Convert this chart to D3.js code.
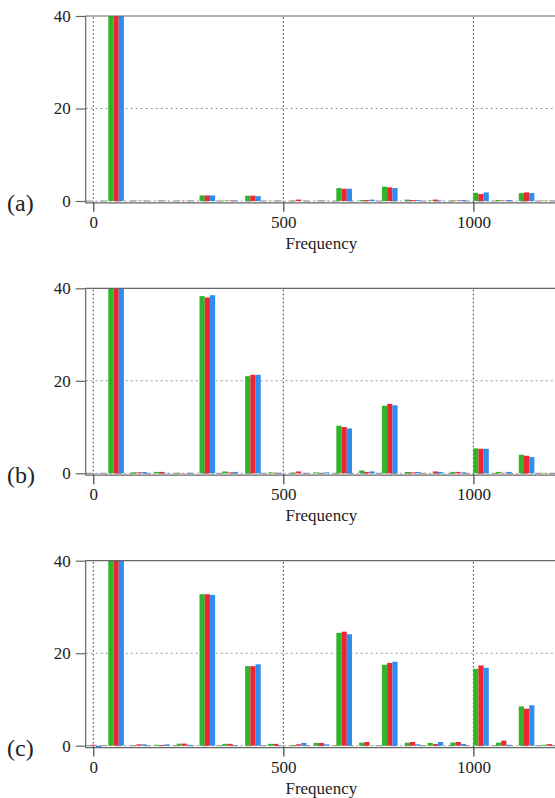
<!DOCTYPE html>
<html>
<head>
<meta charset="utf-8">
<script src="https://cdn.jsdelivr.net/npm/d3@7"></script>
<style>
  html, body { margin: 0; padding: 0; background: #fff; }
  svg { display: block; }
  svg text { font-family: "Liberation Serif", "DejaVu Serif", serif; fill: #222; }
</style>
</head>
<body>
<svg id="chart" width="555" height="798"></svg>
<script>
// Harmonic frequencies (Hz), 0 .. 20th harmonic of 60 Hz
const frequencies = [0, 60, 120, 180, 240, 300, 360, 420, 480, 540, 600,
                     660, 720, 780, 840, 900, 960, 1020, 1080, 1140, 1200];

const panelLabels = ["(a)", "(b)", "(c)"];
const seriesNames = ["A", "B", "C"];
const xTickValues = [0, 500, 1000];
const yTickValues = [0, 20, 40];

// Harmonic magnitudes (% of fundamental) per panel and series
const panelA_A = [0, 100, 0.05, 0.05, 0.05, 1.2, 0.1, 1.15, 0.05, 0.05, 0.05, 2.8, 0.2, 3.1, 0.3, 0.1, 0.1, 1.75, 0.2, 1.7, 0.1];
const panelA_B = [0, 100, 0.05, 0.05, 0.05, 1.2, 0.1, 1.15, 0.05, 0.3, 0.05, 2.65, 0.2, 2.95, 0.2, 0.3, 0.1, 1.5, 0.1, 1.85, 0.05];
const panelA_C = [0, 100, 0.05, 0.05, 0.05, 1.2, 0.1, 1.05, 0.05, 0.05, 0.05, 2.65, 0.3, 2.8, 0.2, 0.1, 0.2, 1.85, 0.2, 1.7, 0.05];

const panelB_A = [0.05, 100, 0.2, 0.3, 0.1, 38.3, 0.4, 21.0, 0.2, 0.15, 0.2, 10.3, 0.6, 14.6, 0.3, 0.05, 0.3, 5.4, 0.3, 4.0, 0.1];
const panelB_B = [0.05, 100, 0.2, 0.3, 0.05, 38.0, 0.2, 21.3, 0.1, 0.4, 0.05, 10.0, 0.3, 15.0, 0.2, 0.4, 0.3, 5.3, 0.1, 3.8, 0.05];
const panelB_C = [0.05, 100, 0.3, 0.1, 0.1, 38.5, 0.3, 21.3, 0.1, 0.1, 0.2, 9.7, 0.4, 14.7, 0.3, 0.3, 0.2, 5.3, 0.3, 3.5, 0.05];

const panelC_A = [0, 100, 0.05, 0.2, 0.45, 32.75, 0.4, 17.2, 0.4, 0.15, 0.6, 24.4, 0.65, 17.5, 0.65, 0.6, 0.7, 16.6, 0.65, 8.5, 0.2];
const panelC_B = [0.2, 100, 0.3, 0.15, 0.45, 32.75, 0.4, 17.2, 0.4, 0.3, 0.6, 24.65, 0.8, 17.9, 0.8, 0.35, 0.8, 17.35, 1.1, 8.0, 0.35];
const panelC_C = [-0.35, 100, 0.3, 0.3, 0.2, 32.6, 0.1, 17.6, 0.1, 0.6, 0.3, 24.1, 0.05, 18.15, 0.3, 0.8, 0.4, 16.85, 0.2, 8.75, 0.05];

const panels = [
  [panelA_A, panelA_B, panelA_C],
  [panelB_A, panelB_B, panelB_C],
  [panelC_A, panelC_B, panelC_C]
];

// Styling and layout
const colors = ["#2fb52a", "#ee2630", "#2f8cf0"];
const plotLeft = 85.7, plotRight = 557;
const panelTops = [16, 288.3, 560.7];
const plotH40 = 185;           // pixels spanned by 0..40
const yMin = -0.4, yMax = 40;

const svg = d3.select("#chart");

const x = d3.scaleLinear().domain([-20, 1220]).range([plotLeft, plotRight]);
const barW = x(13.7) - x(0);
const offset = d3.scaleBand().domain(seriesNames)
  .range([-1.5 * barW, 1.5 * barW]).padding(0);

panels.forEach((series, pi) => {
  const top = panelTops[pi];
  const bottom = top + plotH40 * (yMax - yMin) / 40;
  const y = d3.scaleLinear().domain([yMin, yMax]).range([bottom, top]);

  const g = svg.append("g");

  const clipId = "clip" + pi;
  svg.append("clipPath").attr("id", clipId)
    .append("rect")
    .attr("x", plotLeft).attr("y", top)
    .attr("width", plotRight - plotLeft).attr("height", bottom - top);

  // grid lines
  g.selectAll("line.vgrid").data(xTickValues).join("line")
    .attr("class", "vgrid")
    .attr("x1", d => x(d)).attr("x2", d => x(d))
    .attr("y1", bottom).attr("y2", top)
    .attr("stroke", "#444").attr("stroke-width", 1.1)
    .attr("stroke-dasharray", "1.5,2.5");

  g.append("line")
    .attr("x1", plotLeft).attr("x2", plotRight)
    .attr("y1", y(20)).attr("y2", y(20))
    .attr("stroke", "#999").attr("stroke-width", 1.1)
    .attr("stroke-dasharray", "2,3");

  // zero reference line
  g.append("line")
    .attr("x1", plotLeft).attr("x2", plotRight)
    .attr("y1", y(0)).attr("y2", y(0))
    .attr("stroke", "#888").attr("stroke-width", 1)
    .attr("stroke-dasharray", "7,3,1.5,3");

  // bars
  const bars = g.append("g").attr("clip-path", `url(#${clipId})`);
  series.forEach((vals, si) => {
    bars.selectAll(null).data(vals.map((v, i) => ({ f: frequencies[i], v })))
      .join("rect")
      .attr("x", d => x(d.f) + offset(seriesNames[si]))
      .attr("width", offset.bandwidth())
      .attr("y", d => y(Math.max(0, d.v)))
      .attr("height", d => Math.abs(y(d.v) - y(0)))
      .attr("fill", colors[si]);
  });

  // frame: left, top, bottom
  g.append("path")
    .attr("d", `M${plotRight},${top}H${plotLeft}V${bottom}H${plotRight}`)
    .attr("fill", "none").attr("stroke", "#666").attr("stroke-width", 1.2);

  // y axis
  const yAxis = d3.axisLeft(y).tickValues(yTickValues).tickSize(10).tickPadding(5)
    .tickFormat(d3.format("d"));
  const ya = g.append("g").attr("transform", `translate(${plotLeft},0)`).call(yAxis)
    .attr("font-family", null).attr("font-size", 17);
  ya.select(".domain").remove();
  ya.selectAll(".tick line").attr("stroke", "#666").attr("stroke-width", 1.2);

  // x axis
  const xAxis = d3.axisBottom(x).tickValues(xTickValues).tickSize(9).tickPadding(4)
    .tickFormat(d3.format("d"));
  const xa = g.append("g").attr("transform", `translate(0,${bottom})`).call(xAxis)
    .attr("font-family", null).attr("font-size", 17);
  xa.select(".domain").remove();
  xa.selectAll(".tick line").attr("stroke", "#444").attr("stroke-width", 1.2);

  g.append("text")
    .attr("x", (plotLeft + plotRight) / 2)
    .attr("y", bottom + 46)
    .attr("text-anchor", "middle")
    .attr("font-size", 17)
    .text("Frequency");

  g.append("text")
    .attr("x", 7)
    .attr("y", y(0) + 10)
    .attr("font-size", 24)
    .text(panelLabels[pi]);
});
</script>
</body>
</html>
